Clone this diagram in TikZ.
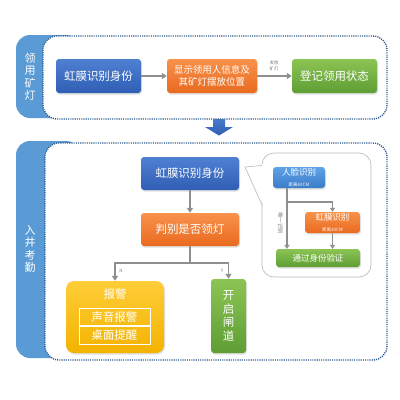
\documentclass[tikz,border=0pt]{standalone}
\usepackage{fontspec}
\setmainfont{Noto Sans CJK SC}
\usetikzlibrary{arrows.meta,shadows}
\definecolor{tabblue}{HTML}{5B9BD5}
\definecolor{dotblue}{HTML}{2E5C8E}
\definecolor{bA}{HTML}{4F80D2}
\definecolor{bB}{HTML}{2F5EB4}
\definecolor{lbA}{HTML}{5EA2E6}
\definecolor{lbB}{HTML}{3B7CC9}
\definecolor{oA}{HTML}{F8924C}
\definecolor{oB}{HTML}{E96A1F}
\definecolor{gA}{HTML}{8CC454}
\definecolor{gB}{HTML}{5E9E34}
\definecolor{yA}{HTML}{FFCD38}
\definecolor{yB}{HTML}{F3B300}
\definecolor{lineg}{HTML}{8F8F8F}
\definecolor{bubg}{HTML}{B8B8B8}
\begin{document}
\begin{tikzpicture}[x=1pt,y=-1pt,
  shad/.style={drop shadow={opacity=0.25,shadow xshift=1pt,shadow yshift=-1.5pt}},
  boxbase/.style={rounded corners=3pt, text=white, inner sep=0pt, align=center, shad},
  bluebox/.style={boxbase, top color=bA, bottom color=bB},
  lbluebox/.style={boxbase, top color=lbA, bottom color=lbB},
  orangebox/.style={boxbase, top color=oA, bottom color=oB},
  greenbox/.style={boxbase, top color=gA, bottom color=gB},
  yellowbox/.style={boxbase, rounded corners=8pt, top color=yA, bottom color=yB},
  tabshape/.style={fill=tabblue, rounded corners=14pt},
  dotbox/.style={fill=white, draw=dotblue, line width=1.4pt, dash pattern=on 1.1pt off 1.1pt, rounded corners=14pt},
  tabtext/.style={text=white, align=center, font=\fontsize{11}{12.5}\selectfont},
  fbig/.style={font=\fontsize{11.5}{13}\selectfont},
  fmid/.style={font=\fontsize{9.5}{12}\selectfont},
  fsmall/.style={font=\fontsize{8.5}{9}\selectfont},
  ftiny/.style={font=\fontsize{4.5}{5.5}\selectfont},
  conn/.style={draw=lineg, line width=1.8pt, -{Triangle[width=6pt,length=5pt]}},
  connline/.style={draw=lineg, line width=1.8pt},
  thinconn/.style={draw=lineg, line width=1.3pt, -{Triangle[width=5pt,length=4pt]}},
  thinline/.style={draw=lineg, line width=1.3pt},
  lbl/.style={text=gray, align=center, ftiny}
]
\useasboundingbox[fill=white] (0,0) rectangle (400,400);

% ---------- top section ----------
\path[tabshape] (16,35) rectangle (80,118);
% big arrow between sections
\shade[top color=bA, bottom color=bB] (213,115) -- (225,115) -- (225,127) -- (233,127) -- (219,135.5) -- (205,127) -- (213,127) -- cycle;
\path[dotbox] (43,36) rectangle (387,119);
\node[tabtext] (tab1) at (30,77) {领\\用\\矿\\灯};

\node[bluebox, fbig, minimum width=85pt, minimum height=34pt] (t1) at (98.5,76) {虹膜识别身份};
\node[orangebox, fmid, minimum width=90pt, minimum height=34pt] (t2) at (212,76) {显示领用人信息及\\其矿灯摆放位置};
\node[greenbox, fbig, minimum width=85pt, minimum height=34pt] (t3) at (334.5,76) {登记领用状态};
\draw[conn] (t1) -- (t2);
\draw[conn] (t2) -- (t3);
\node[lbl] (lab1) at (274,66) {发放\\矿灯};

% ---------- bottom section ----------
\path[tabshape] (16,141) rectangle (80,358);
\path[dotbox] (45,143) rectangle (387,360);
\node[tabtext] (tab2) at (30,249) {入\\井\\考\\勤};

\node[bluebox, fbig, minimum width=98pt, minimum height=33pt] (b1) at (190,173.5) {虹膜识别身份};
\node[orangebox, fbig, minimum width=98pt, minimum height=33pt] (b2) at (190,229.5) {判别是否领灯};
\draw[conn] (b1) -- (b2);

\node[yellowbox, minimum width=98pt, minimum height=72pt] (alarm) at (115,317) {};
\node[text=white, fbig] (alarmt) at (115,294) {报警};
\node[draw=white, line width=0.9pt, text=white, fbig, minimum width=71pt, minimum height=17.5pt, inner sep=0pt] (snd) at (114.5,317) {声音报警};
\node[draw=white, line width=0.9pt, text=white, fbig, minimum width=71pt, minimum height=17.5pt, inner sep=0pt, anchor=north] (desk) at (snd.south) {桌面提醒};

\node[greenbox, font=\fontsize{11.5}{13.7}\selectfont, minimum width=35pt, minimum height=74pt] (gate) at (228.5,316) {开\\启\\闸\\道};

\coordinate (j) at (190,263);
\draw[connline] (b2) -- (j);
\draw[conn] (j) -| (alarm.north);
\draw[conn] (j) -| (gate.north);
\node[lbl] (nlab) at (121,271) {N};
\node[lbl] (ylab) at (222,271) {Y};

% ---------- speech bubble ----------
\path[draw=bubg, line width=0.6pt, fill=white, rounded corners=12pt] (262,153) rectangle (371,277);
\fill[white] (264,206) -- (245,167) -- (264,164) -- cycle;
\draw[bubg, line width=0.6pt] (262,205) -- (245,167) -- (262,165.5);

\node[lbluebox, minimum width=52pt, minimum height=21pt] (face) at (299,177.5) {{\fontsize{8.5}{9}\selectfont 人脸识别}\\[-1pt]{\fontsize{4.5}{5}\selectfont 距离60CM}};
\node[orangebox, minimum width=55pt, minimum height=21pt] (iris) at (332.5,222.5) {{\fontsize{8.5}{9}\selectfont 虹膜识别}\\[-1pt]{\fontsize{4.5}{5}\selectfont 距离30CM}};
\node[greenbox, fsmall, minimum width=84pt, minimum height=18pt] (pass) at (318,258) {通过身份验证};

\coordinate (fa) at ([xshift=-12pt]face.south);
\draw[thinconn] (fa) -- (fa |- pass.north);
\draw[thinconn] (fa |- 0,202) -| (iris.north);
\draw[thinconn] (iris.south) -- (iris.south |- pass.north);
\node[lbl, rotate=-90, font=\fontsize{5.5}{6}\selectfont] (uniq) at (280.5,223) {唯一识别};
\end{tikzpicture}
\end{document}
